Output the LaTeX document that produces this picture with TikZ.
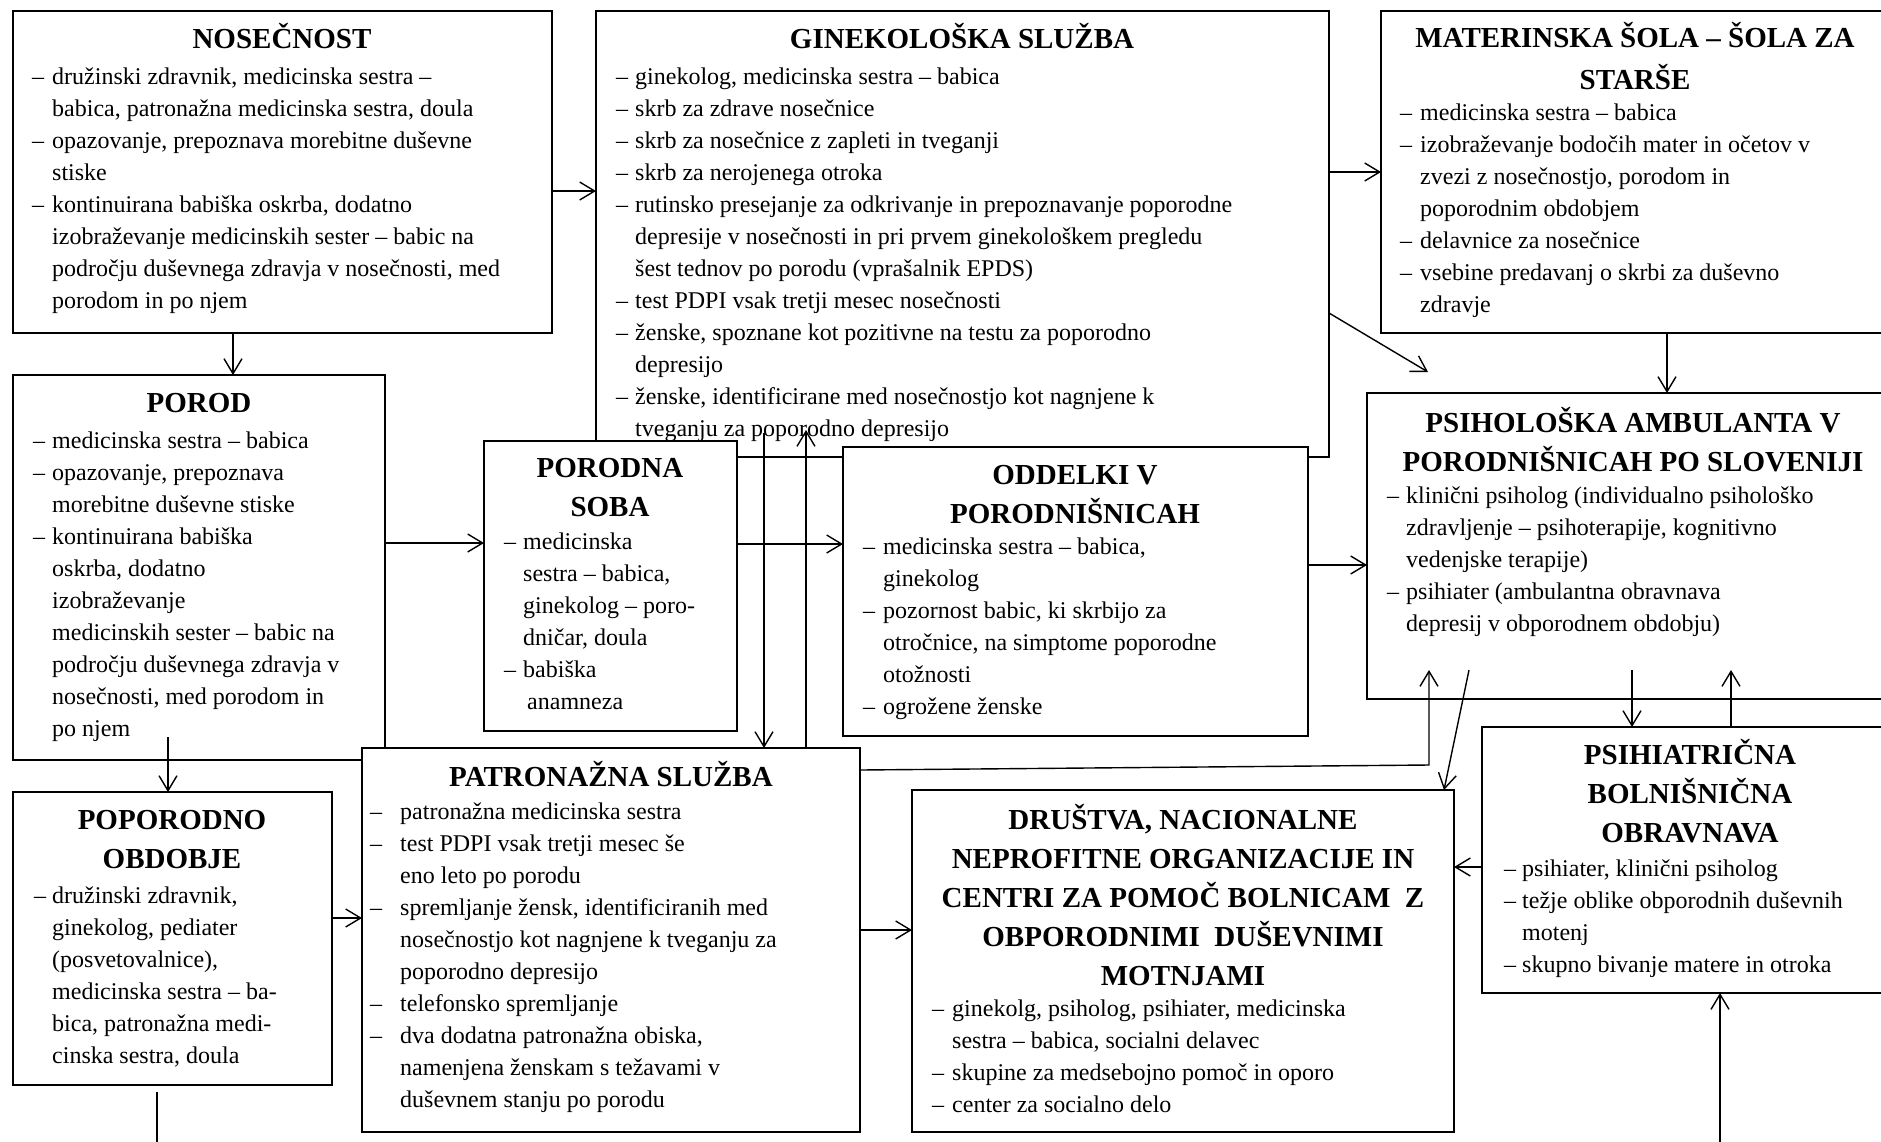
\documentclass[tikz,border=0pt]{standalone}
\usepackage{fontspec}
\setmainfont{Liberation Serif}
\usetikzlibrary{arrows.meta}
\newlength\dwid
\newcommand\myBody{\fontsize{24}{32}\selectfont}
\newcommand\myTitle{\fontsize{29}{39}\selectfont\bfseries}
\newcommand\dl[1]{\strut\makebox[\dwid][l]{–}#1}
\newcommand\cl[1]{\strut\hspace*{\dwid}#1}
\newcommand\tl[1]{\strut#1}
\begin{document}
\begin{tikzpicture}[x=1pt,y=-1pt,
  box/.style={draw, fill=white, line width=1.4pt, anchor=north west, inner sep=0pt, outer sep=0pt},
  ttl/.style={anchor=north, align=center, inner sep=0pt, font=\myTitle},
  txt/.style={anchor=north west, align=left, inner sep=0pt, font={\myBody\global\dwid=#1}},
  txt/.default=19pt,
  conn/.style={line width=1.4pt, -{Straight Barb[length=15pt,width=18pt]}},
  plainline/.style={line width=1.4pt}]
\fill[white] (0,0) rectangle (1881,1141);
\useasboundingbox (0,0) rectangle (1881,1141);

% NOSECNOST
\node[box, minimum width=539pt, minimum height=322pt] (nos) at (13,11) {};
\node[ttl] (nosT) at (282,21.3) {\tl{NOSEČNOST}};
\node[txt=20pt] (nosB) at (32,61.6) {\dl{družinski zdravnik, medicinska sestra –}\\
\cl{babica, patronažna medicinska sestra, doula}\\
\dl{opazovanje, prepoznava morebitne duševne}\\
\cl{stiske}\\
\dl{kontinuirana babiška oskrba, dodatno}\\
\cl{izobraževanje medicinskih sester – babic na}\\
\cl{področju duševnega zdravja v nosečnosti, med}\\
\cl{porodom in po njem}};

% GINEKOLOSKA SLUZBA
\node[box, minimum width=733pt, minimum height=446pt] (gin) at (596,11) {};
\node[ttl] (ginT) at (962,21.3) {\tl{GINEKOLOŠKA SLUŽBA}};
\node[txt=19pt] (ginB) at (616,61.6) {\dl{ginekolog, medicinska sestra – babica}\\
\dl{skrb za zdrave nosečnice}\\
\dl{skrb za nosečnice z zapleti in tveganji}\\
\dl{skrb za nerojenega otroka}\\
\dl{rutinsko presejanje za odkrivanje in prepoznavanje poporodne}\\
\cl{depresije v nosečnosti in pri prvem ginekološkem pregledu}\\
\cl{šest tednov po porodu (vprašalnik EPDS)}\\
\dl{test PDPI vsak tretji mesec nosečnosti}\\
\dl{ženske, spoznane kot pozitivne na testu za poporodno}\\
\cl{depresijo}\\
\dl{ženske, identificirane med nosečnostjo kot nagnjene k}\\
\cl{tveganju za poporodno depresijo}};

% MATERINSKA SOLA
\node[box, minimum width=509pt, minimum height=322pt] (mat) at (1381,11) {};
\node[ttl, font={\fontsize{29}{42}\selectfont\bfseries}] (matT) at (1635,17.8) {\tl{MATERINSKA ŠOLA – ŠOLA ZA}\\\tl{STARŠE}};
\node[txt=20pt] (matB) at (1400,97.6) {\dl{medicinska sestra – babica}\\
\dl{izobraževanje bodočih mater in očetov v}\\
\cl{zvezi z nosečnostjo, porodom in}\\
\cl{poporodnim obdobjem}\\
\dl{delavnice za nosečnice}\\
\dl{vsebine predavanj o skrbi za duševno}\\
\cl{zdravje}};

% POROD
\node[box, minimum width=372pt, minimum height=385pt] (por) at (13,375) {};
\node[ttl] (porT) at (199,385.3) {\tl{POROD}};
\node[txt=19pt] (porB) at (33,425.6) {\dl{medicinska sestra – babica}\\
\dl{opazovanje, prepoznava}\\
\cl{morebitne duševne stiske}\\
\dl{kontinuirana babiška}\\
\cl{oskrba, dodatno}\\
\cl{izobraževanje}\\
\cl{medicinskih sester – babic na}\\
\cl{področju duševnega zdravja v}\\
\cl{nosečnosti, med porodom in}\\
\cl{po njem}};

% PORODNA SOBA
\node[box, minimum width=253pt, minimum height=290pt] (sob) at (484,441) {};
\node[ttl] (sobT) at (610,450.3) {\tl{PORODNA}\\\tl{SOBA}};
\node[txt=19pt] (sobB) at (504,526.6) {\dl{medicinska}\\
\cl{sestra – babica,}\\
\cl{ginekolog – poro-}\\
\cl{dničar, doula}\\
\dl{babiška}\\
\cl{\,anamneza}};

% ODDELKI V PORODNISNICAH
\node[box, minimum width=465pt, minimum height=289pt] (odd) at (843,447) {};
\node[ttl] (oddT) at (1075,457.3) {\tl{ODDELKI V}\\\tl{PORODNIŠNICAH}};
\node[txt=20pt] (oddB) at (863,531.6) {\dl{medicinska sestra – babica,}\\
\cl{ginekolog}\\
\dl{pozornost babic, ki skrbijo za}\\
\cl{otročnice, na simptome poporodne}\\
\cl{otožnosti}\\
\dl{ogrožene ženske}};

% PSIHOLOSKA AMBULANTA
\node[box, minimum width=532pt, minimum height=306pt] (psl) at (1367,393) {};
\node[ttl] (pslT) at (1633,405.3) {\tl{PSIHOLOŠKA AMBULANTA V}\\\tl{PORODNIŠNICAH PO SLOVENIJI}};
\node[txt=19pt] (pslB) at (1387,480.6) {\dl{klinični psiholog (individualno psihološko}\\
\cl{zdravljenje – psihoterapije, kognitivno}\\
\cl{vedenjske terapije)}\\
\dl{psihiater (ambulantna obravnava}\\
\cl{depresij v obporodnem obdobju)}};

% PATRONAZNA SLUZBA
\node[box, minimum width=498pt, minimum height=384pt] (pat) at (362,748) {};
\node[ttl] (patT) at (611,759.3) {\tl{PATRONAŽNA SLUŽBA}};
\node[txt=30pt] (patB) at (370,796.6) {\dl{patronažna medicinska sestra}\\
\dl{test PDPI vsak tretji mesec še}\\
\cl{eno leto po porodu}\\
\dl{spremljanje žensk, identificiranih med}\\
\cl{nosečnostjo kot nagnjene k tveganju za}\\
\cl{poporodno depresijo}\\
\dl{telefonsko spremljanje}\\
\dl{dva dodatna patronažna obiska,}\\
\cl{namenjena ženskam s težavami v}\\
\cl{duševnem stanju po porodu}};

% POPORODNO OBDOBJE
\node[box, minimum width=319pt, minimum height=293pt] (pop) at (13,792) {};
\node[ttl] (popT) at (172,802.3) {\tl{POPORODNO}\\\tl{OBDOBJE}};
\node[txt=18pt] (popB) at (34,880.6) {\dl{družinski zdravnik,}\\
\cl{ginekolog, pediater}\\
\cl{(posvetovalnice),}\\
\cl{medicinska sestra – ba-}\\
\cl{bica, patronažna medi-}\\
\cl{cinska sestra, doula}};

% DRUSTVA
\node[box, minimum width=542pt, minimum height=342pt] (dru) at (912,790) {};
\node[ttl] (druT) at (1183,802.3) {\tl{DRUŠTVA, NACIONALNE}\\
\tl{NEPROFITNE ORGANIZACIJE IN}\\
\tl{CENTRI ZA POMOČ BOLNICAM\ \ Z}\\
\tl{OBPORODNIMI\ \ DUŠEVNIMI}\\
\tl{MOTNJAMI}};
\node[txt=20pt] (druB) at (932,993.6) {\dl{ginekolg, psiholog, psihiater, medicinska}\\
\cl{sestra – babica, socialni delavec}\\
\dl{skupine za medsebojno pomoč in oporo}\\
\dl{center za socialno delo}};

% PSIHIATRICNA BOLNISNICNA OBRAVNAVA
\node[box, minimum width=416pt, minimum height=266pt] (psh) at (1482,727) {};
\node[ttl] (pshT) at (1690,737.3) {\tl{PSIHIATRIČNA}\\\tl{BOLNIŠNIČNA}\\\tl{OBRAVNAVA}};
\node[txt=18pt] (pshB) at (1504,853.6) {\dl{psihiater, klinični psiholog}\\
\dl{težje oblike obporodnih duševnih}\\
\cl{motenj}\\
\dl{skupno bivanje matere in otroka}};

% free ends of connectors
\coordinate (pslTip) at (1428,372);
\coordinate (porIn) at (168,737);
\coordinate (ginIn) at (764,433);
\coordinate (ginUp) at (806,430);
\coordinate (patCorner) at (1429,765);
\coordinate (pslIn1) at (1429,670);
\coordinate (pslIn2) at (1469,670);
\coordinate (pslIn3) at (1632,670);
\coordinate (pslIn4) at (1731,670);
\coordinate (bottomR) at (1720,1150);
\coordinate (popOut) at (157,1092);
\coordinate (popEnd) at (157,1150);

% connectors
\draw[conn] (nos.east |- 0,191) -- (gin.west |- 0,191);
\draw[conn] (gin.east |- 0,172) -- (mat.west |- 0,172);
\draw[conn] (gin.east |- 0,313) -- (pslTip);
\draw[conn] (mat.south -| 1667,0) -- (psl.north -| 1667,0);
\draw[conn] (nos.south -| 233,0) -- (por.north -| 233,0);
\draw[conn] (por.east |- 0,543) -- (sob.west |- 0,543);
\draw[conn] (sob.east |- 0,544) -- (odd.west |- 0,544);
\draw[conn] (odd.east |- 0,565) -- (psl.west |- 0,565);
\draw[conn] (porIn) -- (pop.north -| porIn);
\draw[conn] (pop.east |- 0,918) -- (pat.west |- 0,918);
\draw[conn] (pat.east |- 0,930) -- (dru.west |- 0,930);
\draw[conn] (ginIn) -- (pat.north -| ginIn);
\draw[conn] (pat.north -| ginUp) -- (ginUp);
\draw[conn] (pat.east |- 0,770) -- (patCorner) -- (pslIn1);
\draw[conn] (pslIn2) -- ([xshift=-10pt]dru.north east);
\draw[conn] (pslIn3) -- (psh.north -| pslIn3);
\draw[conn] (psh.north -| pslIn4) -- (pslIn4);
\draw[conn] (psh.west |- 0,867) -- (dru.east |- 0,867);
\draw[conn] (bottomR) -- (psh.south -| bottomR);
\draw[plainline] (popOut) -- (popEnd);
\end{tikzpicture}
\end{document}
